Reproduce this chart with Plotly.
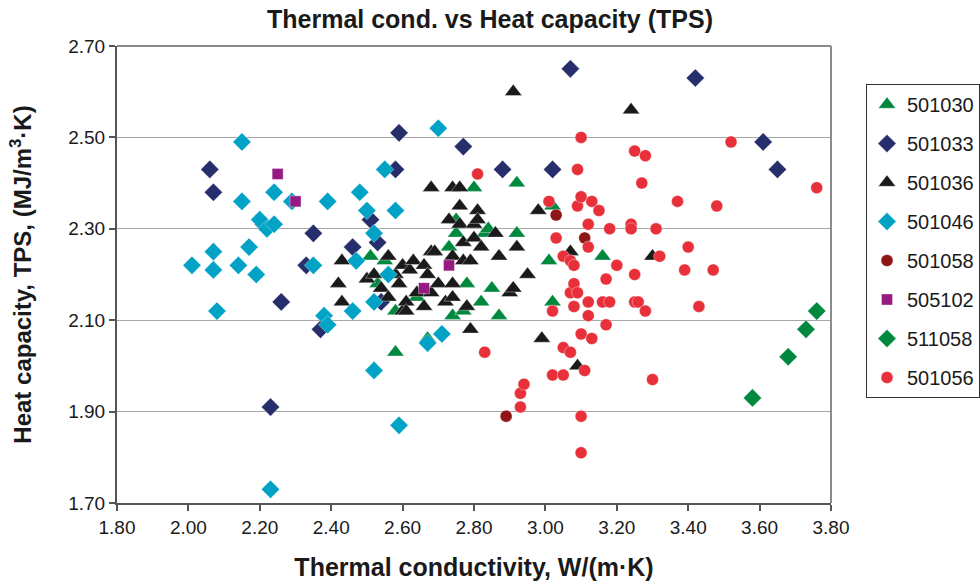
import plotly.graph_objects as go

# ---------------- data ----------------
s501030_x = [2.51, 2.53, 2.55, 2.58, 2.58, 2.64, 2.67, 2.73, 2.74, 2.75, 2.75, 2.77, 2.78, 2.80, 2.82, 2.83, 2.84, 2.85, 2.87, 2.92, 2.92, 3.01, 3.02, 3.02, 3.16]
s501030_y = [2.24, 2.18, 2.23, 2.12, 2.03, 2.15, 2.06, 2.26, 2.11, 2.32, 2.29, 2.12, 2.18, 2.39, 2.14, 2.29, 2.30, 2.17, 2.11, 2.40, 2.29, 2.23, 2.35, 2.14, 2.24]

s501033_x = [2.06, 2.07, 2.21, 2.23, 2.26, 2.33, 2.35, 2.37, 2.46, 2.51, 2.53, 2.54, 2.58, 2.59, 2.77, 2.88, 3.02, 3.07, 3.42, 3.61, 3.65]
s501033_y = [2.43, 2.38, 2.31, 1.91, 2.14, 2.22, 2.29, 2.08, 2.26, 2.32, 2.27, 2.14, 2.43, 2.51, 2.48, 2.43, 2.43, 2.65, 2.63, 2.49, 2.43]

s501036_x = [2.42, 2.43, 2.43, 2.50, 2.52, 2.54, 2.56, 2.56, 2.58, 2.59, 2.60, 2.60, 2.61, 2.61, 2.62, 2.63, 2.64, 2.66, 2.66, 2.67,
             2.68, 2.68, 2.68, 2.69, 2.70, 2.72, 2.73, 2.74, 2.74, 2.74, 2.74, 2.76, 2.76, 2.76, 2.77, 2.77, 2.78, 2.79, 2.79, 2.80,
             2.80, 2.81, 2.81, 2.82, 2.86, 2.87, 2.90, 2.91, 2.91, 2.92, 2.95, 2.98, 2.99, 3.07, 3.09, 3.24, 3.30]
s501036_y = [2.18, 2.23, 2.14, 2.19, 2.20, 2.17, 2.24, 2.15, 2.20, 2.18, 2.22, 2.12, 2.14, 2.12, 2.21, 2.23, 2.16, 2.22, 2.13, 2.20,
             2.39, 2.25, 2.16, 2.25, 2.18, 2.14, 2.32, 2.39, 2.24, 2.18, 2.15, 2.39, 2.35, 2.31, 2.27, 2.23, 2.13, 2.23, 2.08, 2.31,
             2.28, 2.34, 2.32, 2.26, 2.29, 2.24, 2.16, 2.17, 2.60, 2.26, 2.20, 2.34, 2.06, 2.25, 2.00, 2.56, 2.24]

s501046_x = [2.01, 2.07, 2.07, 2.08, 2.15, 2.15, 2.14, 2.17, 2.19, 2.20, 2.22, 2.24, 2.24, 2.23, 2.29, 2.35, 2.38, 2.39, 2.39, 2.46,
             2.47, 2.48, 2.50, 2.52, 2.52, 2.52, 2.55, 2.56, 2.58, 2.59, 2.67, 2.70, 2.71]
s501046_y = [2.22, 2.25, 2.21, 2.12, 2.49, 2.36, 2.22, 2.26, 2.20, 2.32, 2.30, 2.31, 2.38, 1.73, 2.36, 2.22, 2.11, 2.09, 2.36, 2.12,
             2.23, 2.38, 2.34, 2.29, 2.14, 1.99, 2.43, 2.20, 2.34, 1.87, 2.05, 2.52, 2.07]

s501058_x = [2.89, 3.03, 3.11]
s501058_y = [1.89, 2.33, 2.28]

s505102_x = [2.25, 2.30, 2.66, 2.73]
s505102_y = [2.42, 2.36, 2.17, 2.22]

s511058_x = [3.58, 3.68, 3.73, 3.76]
s511058_y = [1.93, 2.02, 2.08, 2.12]

s501056_x = [2.81, 2.83, 2.93, 2.93, 2.94, 3.01, 3.02, 3.02, 3.03, 3.05, 3.05, 3.05, 3.07, 3.07, 3.07, 3.08, 3.08, 3.08, 3.09, 3.09,
             3.09, 3.10, 3.10, 3.10, 3.10, 3.10, 3.11, 3.12, 3.12, 3.12, 3.12, 3.13, 3.13, 3.15, 3.16, 3.17, 3.17, 3.18, 3.18, 3.20,
             3.24, 3.24, 3.25, 3.25, 3.25, 3.26, 3.27, 3.28, 3.28, 3.30, 3.31, 3.32, 3.37, 3.39, 3.40, 3.43, 3.47, 3.48, 3.52, 3.76]
s501056_y = [2.42, 2.03, 1.91, 1.94, 1.96, 2.36, 2.12, 1.98, 2.28, 2.24, 2.04, 1.98, 2.23, 2.03, 2.16, 2.22, 2.18, 2.13, 2.43, 2.35,
             2.16, 2.50, 2.37, 2.07, 1.89, 1.81, 1.99, 2.31, 2.26, 2.14, 2.11, 2.36, 2.06, 2.34, 2.14, 2.19, 2.09, 2.30, 2.14, 2.22,
             2.31, 2.30, 2.47, 2.20, 2.14, 2.14, 2.40, 2.46, 2.12, 1.97, 2.30, 2.24, 2.36, 2.21, 2.26, 2.13, 2.21, 2.35, 2.49, 2.39]

x_ticks = [1.8, 2.0, 2.2, 2.4, 2.6, 2.8, 3.0, 3.2, 3.4, 3.6, 3.8]
y_ticks = [1.7, 1.9, 2.1, 2.3, 2.5, 2.7]

series = [
    ("501030", s501030_x, s501030_y, "triangle-up", "#00883F", 15),
    ("501033", s501033_x, s501033_y, "diamond", "#262E6B", 14),
    ("501036", s501036_x, s501036_y, "triangle-up", "#1A1A1A", 15),
    ("501046", s501046_x, s501046_y, "diamond", "#00A3C6", 14),
    ("501058", s501058_x, s501058_y, "circle", "#8E1616", 12),
    ("505102", s505102_x, s505102_y, "square", "#951A82", 11),
    ("511058", s511058_x, s511058_y, "diamond", "#00883F", 14),
    ("501056", s501056_x, s501056_y, "circle", "#E8303A", 12),
]

FONT = "Liberation Sans, Arial, sans-serif"

fig = go.Figure()
for name, xs, ys, sym, col, sz in series:
    fig.add_trace(go.Scatter(
        x=xs, y=ys, mode="markers", name=name, legendgroup=name,
        marker=dict(symbol=sym, color=col, size=sz, line=dict(width=0.6, color="rgba(255,255,255,0.6)")),
    ))

axis_font = dict(family=FONT, size=19, color="#1a1a1a")
fig.update_layout(
    width=980, height=586,
    margin=dict(l=117, r=149, t=46, b=83, autoexpand=False),
    paper_bgcolor="white", plot_bgcolor="white",
    font=dict(family=FONT, color="#1a1a1a"),
    title=dict(text="<b>Thermal cond. vs Heat capacity (TPS)</b>", x=0.5, xref="container", xanchor="center",
               y=0.968, yref="container", yanchor="middle",
               font=dict(size=25, family=FONT, color="#1a1a1a")),
    showlegend=True,
    legend=dict(x=866 / 980, xref="container", xanchor="left",
                y=1 - 84 / 586, yref="container", yanchor="top",
                maxheight=450,
                bordercolor="#333333", borderwidth=1, bgcolor="white",
                font=dict(size=20, family=FONT, color="#1a1a1a"),
                tracegroupgap=10, traceorder="grouped"),
    xaxis=dict(range=[1.8, 3.8], tickvals=x_ticks, tickformat=".2f",
               showgrid=False, zeroline=False,
               showline=True, linecolor="#555555", linewidth=2, mirror=False,
               ticks="outside", ticklen=6, tickcolor="#555555", tickwidth=1.5,
               tickfont=axis_font,
               title=dict(text="<b>Thermal conductivity, W/(m·K)</b>", standoff=22,
                          font=dict(size=25, family=FONT, color="#1a1a1a"))),
    yaxis=dict(range=[1.7, 2.7], tickvals=y_ticks, tickformat=".2f",
               showgrid=True, gridcolor="#A6A6A6", gridwidth=1.2, zeroline=False,
               showline=True, linecolor="#555555", linewidth=2,
               ticks="outside", ticklen=6, tickcolor="#555555", tickwidth=1.5,
               tickfont=axis_font,
               title=dict(text="<b>Heat capacity, TPS, (MJ/m<sup>3</sup>·K)</b>", standoff=30,
                          font=dict(size=24, family=FONT, color="#1a1a1a"))),
)

# gray frame on top and right of plot area
fig.add_shape(type="line", xref="paper", yref="paper", x0=0, x1=1, y0=1, y1=1,
              line=dict(color="#8C8C8C", width=2))
fig.add_shape(type="line", xref="paper", yref="paper", x0=1, x1=1, y0=0, y1=1,
              line=dict(color="#8C8C8C", width=2))

fig.write_html("out.html")
